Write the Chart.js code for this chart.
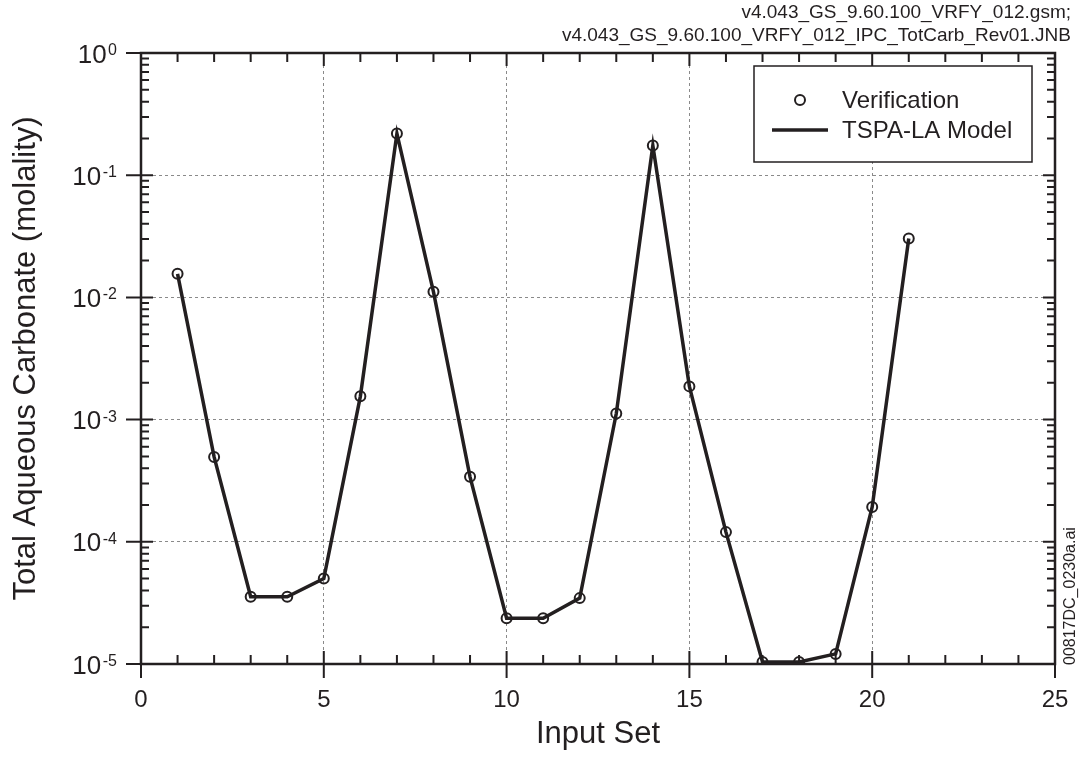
<!DOCTYPE html>
<html>
<head>
  <meta charset="utf-8">
  <title>Total Aqueous Carbonate - Verification</title>
  <script src="https://cdn.jsdelivr.net/npm/chart.js"></script>
  <style>
    html, body { margin: 0; padding: 0; background: #fff; }
  </style>
</head>
<body>
  <canvas id="myChart" width="1081" height="759"></canvas>

  <script>
    // Values
    var inputSet = [1, 2, 3, 4, 5, 6, 7, 8, 9, 10, 11, 12, 13, 14, 15, 16, 17, 18, 19, 20, 21];
    var verification = [1.56e-2, 4.95e-4, 3.55e-5, 3.55e-5, 5.0e-5, 1.55e-3, 2.19e-1, 1.11e-2, 3.4e-4, 2.37e-5, 2.37e-5,
                        3.46e-5, 1.12e-3, 1.75e-1, 1.87e-3, 1.2e-4, 1.04e-5, 1.04e-5, 1.21e-5, 1.93e-4, 3.04e-2];
    var tspaModel = [1.56e-2, 4.95e-4, 3.55e-5, 3.55e-5, 5.0e-5, 1.55e-3, 2.19e-1, 1.11e-2, 3.4e-4, 2.37e-5, 2.37e-5,
                     3.46e-5, 1.12e-3, 1.75e-1, 1.87e-3, 1.2e-4, 1.04e-5, 1.04e-5, 1.21e-5, 1.93e-4, 3.04e-2];
    var xTicks = [0, 5, 10, 15, 20, 25];
    var yExponents = [0, -1, -2, -3, -4, -5];
    var fileNotes = ["v4.043_GS_9.60.100_VRFY_012.gsm;", "v4.043_GS_9.60.100_VRFY_012_IPC_TotCarb_Rev01.JNB"];
    var figureId = "00817DC_0230a.ai";

    var ink = "#231f20";
    var font = "'Liberation Sans', Arial, sans-serif";

    function toPoints(xs, ys) {
      return xs.map(function (x, i) { return { x: x, y: ys[i] }; });
    }

    // frame, inward/outward tick marks and 10^n labels
    var axesPlugin = {
      id: "axesPlugin",
      afterDatasetsDraw: function (chart) {
        var ctx = chart.ctx, a = chart.chartArea;
        var xs = chart.scales.x, ys = chart.scales.y;
        ctx.save();
        ctx.strokeStyle = ink;
        ctx.lineCap = "butt";

        // x ticks (bottom and top)
        ctx.lineWidth = 2;
        for (var v = 0; v <= 25; v++) {
          var px = xs.getPixelForValue(v);
          var major = xTicks.indexOf(v) >= 0;
          ctx.beginPath();
          if (major) {
            ctx.moveTo(px, a.bottom + 14); ctx.lineTo(px, a.bottom - 13);
            ctx.moveTo(px, a.top); ctx.lineTo(px, a.top + 13);
          } else {
            ctx.moveTo(px, a.bottom); ctx.lineTo(px, a.bottom - 9);
            ctx.moveTo(px, a.top); ctx.lineTo(px, a.top + 9);
          }
          ctx.stroke();
        }

        // y ticks (left and right)
        for (var e = -5; e <= 0; e++) {
          var py = ys.getPixelForValue(Math.pow(10, e));
          ctx.beginPath();
          ctx.moveTo(a.left - 15, py); ctx.lineTo(a.left + 12, py);
          ctx.moveTo(a.right, py); ctx.lineTo(a.right - 12, py);
          ctx.stroke();
          if (e === 0) continue;
          for (var m = 2; m <= 9; m++) {
            var pm = ys.getPixelForValue(m * Math.pow(10, e));
            ctx.beginPath();
            ctx.moveTo(a.left, pm); ctx.lineTo(a.left + 8, pm);
            ctx.moveTo(a.right, pm); ctx.lineTo(a.right - 8, pm);
            ctx.stroke();
          }
        }

        // frame
        ctx.lineWidth = 2.5;
        ctx.strokeRect(a.left, a.top, a.right - a.left, a.bottom - a.top);

        // y tick labels 10^n
        ctx.fillStyle = ink;
        ctx.textBaseline = "alphabetic";
        ctx.textAlign = "right";
        yExponents.forEach(function (ex) {
          var py = ys.getPixelForValue(Math.pow(10, ex));
          var expText = String(ex);
          ctx.font = "16px " + font;
          var w = ctx.measureText(expText).width;
          ctx.fillText(expText, a.left - 24, py + 2);
          ctx.font = "26px " + font;
          ctx.fillText("10", a.left - 24 - w - 1.5, py + 9.5);
        });
        ctx.restore();
      },
      afterDraw: function (chart) {
        var ctx = chart.ctx, a = chart.chartArea;
        var sets = chart.data.datasets;
        ctx.save();

        // legend box
        var bx = a.right - 301, by = a.top + 13, bw = 278, bh = 96;
        ctx.fillStyle = "#fff";
        ctx.fillRect(bx, by, bw, bh);
        ctx.strokeStyle = ink;
        ctx.lineWidth = 1.5;
        ctx.strokeRect(bx, by, bw, bh);

        ctx.fillStyle = ink;
        ctx.font = "24px " + font;
        ctx.textAlign = "left";
        ctx.textBaseline = "middle";

        ctx.beginPath();
        ctx.lineWidth = sets[0].pointBorderWidth;
        ctx.arc(bx + 46, by + 34, sets[0].pointRadius, 0, Math.PI * 2);
        ctx.stroke();
        ctx.fillText(sets[0].label, bx + 88, by + 35);

        ctx.beginPath();
        ctx.lineWidth = sets[1].borderWidth;
        ctx.moveTo(bx + 18, by + 64); ctx.lineTo(bx + 74, by + 64);
        ctx.stroke();
        ctx.fillText(sets[1].label, bx + 88, by + 65);

        // file notes, top right
        ctx.font = "19px " + font;
        ctx.textAlign = "right";
        ctx.fillText(fileNotes[0], 1071, 13);
        ctx.fillText(fileNotes[1], 1071, 36);

        // figure id, rotated on the right
        ctx.translate(1071, a.bottom + 1);
        ctx.rotate(-Math.PI / 2);
        ctx.font = "16px " + font;
        ctx.textAlign = "left";
        ctx.fillText(figureId, 0, 0);
        ctx.restore();
      }
    };

    var ctx = document.getElementById("myChart").getContext("2d");
    var chart = new Chart(ctx, {
      type: "line",
      data: {
        datasets: [
          {
            label: "Verification",
            data: toPoints(inputSet, verification),
            showLine: false,
            pointStyle: "circle",
            pointRadius: 5,
            pointBorderWidth: 2,
            pointBorderColor: ink,
            pointBackgroundColor: "rgba(255,255,255,0)",
            borderColor: ink
          },
          {
            label: "TSPA-LA Model",
            data: toPoints(inputSet, tspaModel),
            borderColor: ink,
            borderWidth: 3.5,
            pointRadius: 0,
            tension: 0,
            fill: false
          }
        ]
      },
      options: {
        responsive: false,
        animation: false,
        layout: { padding: { left: 0, right: 26, top: 53, bottom: 0 } },
        plugins: {
          legend: { display: false },
          tooltip: { enabled: false }
        },
        scales: {
          x: {
            type: "linear",
            min: 0,
            max: 25,
            afterBuildTicks: function (s) {
              s.ticks = xTicks.map(function (v) { return { value: v }; });
            },
            ticks: { font: { family: font, size: 24 }, color: ink, padding: 22, maxRotation: 0 },
            grid: { color: "#8a8a8a", lineWidth: 1, drawTicks: false },
            border: { display: false, dash: [3, 3] },
            title: {
              display: true,
              text: "Input Set",
              font: { family: font, size: 31 },
              color: ink,
              padding: { top: 0, bottom: 6 }
            },
            afterFit: function (s) {
              s.height = 759 - 53 - 611;
              s.paddingLeft = 0;
              s.paddingRight = 0;
            }
          },
          y: {
            type: "logarithmic",
            min: 1e-5,
            max: 1,
            afterBuildTicks: function (s) {
              s.ticks = yExponents.map(function (e) { return { value: Math.pow(10, e) }; });
            },
            ticks: { display: false },
            grid: { color: "#8a8a8a", lineWidth: 1, drawTicks: false },
            border: { display: false, dash: [3, 3] },
            title: {
              display: true,
              text: "Total Aqueous Carbonate (molality)",
              font: { family: font, size: 31 },
              color: ink,
              padding: { top: 8, bottom: 0 }
            },
            afterFit: function (s) { s.width = 141; }
          }
        }
      },
      plugins: [axesPlugin]
    });
  </script>
</body>
</html>
